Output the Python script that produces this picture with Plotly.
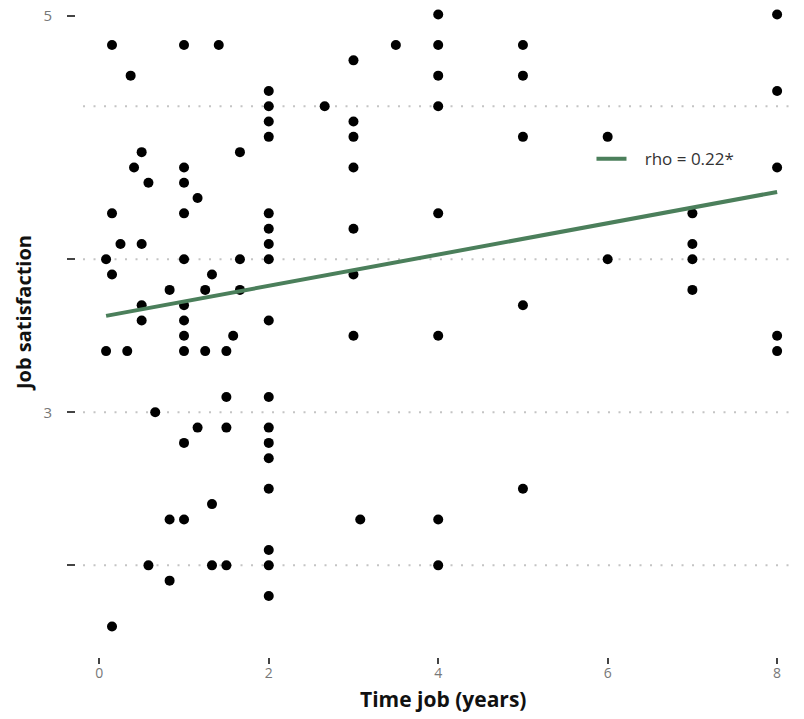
import plotly.graph_objects as go

# Data
time_years = [
    0.15, 1.0, 1.41, 0.37,
    2, 2, 2, 2,
    0.5, 1.66, 0.41, 1.0, 0.58, 1.0, 1.16,
    0.15, 1.0, 2, 2,
    0.25, 0.5, 2,
    0.08, 1.0, 1.66, 2,
    0.15, 1.33,
    0.83, 1.25, 1.66,
    0.5, 1.0,
    0.5, 1.0, 2,
    1.0, 1.58,
    0.08, 0.33, 1.0, 1.25, 1.5,
    1.5, 2,
    0.66,
    1.16, 1.5, 2,
    1.0, 2,
    2, 2,
    1.33,
    0.83, 1.0,
    2,
    0.58, 1.33, 1.5, 2,
    0.83, 2, 0.15,
    4, 3.5, 4, 5, 3, 4, 5, 2.66, 4, 3, 3, 5, 3, 4, 3, 3, 5,
    3, 4, 3.08, 4, 4, 5,
    6, 6, 8, 8, 8, 7, 7, 7, 7, 8, 8,
]
job_satisfaction = [
    5.4, 5.4, 5.4, 5.2,
    5.1, 5.0, 4.9, 4.8,
    4.7, 4.7, 4.6, 4.6, 4.5, 4.5, 4.4,
    4.3, 4.3, 4.3, 4.2,
    4.1, 4.1, 4.1,
    4.0, 4.0, 4.0, 4.0,
    3.9, 3.9,
    3.8, 3.8, 3.8,
    3.7, 3.7,
    3.6, 3.6, 3.6,
    3.5, 3.5,
    3.4, 3.4, 3.4, 3.4, 3.4,
    3.1, 3.1,
    3.0,
    2.9, 2.9, 2.9,
    2.8, 2.8,
    2.7, 2.5,
    2.4,
    2.3, 2.3,
    2.1,
    2.0, 2.0, 2.0, 2.0,
    1.9, 1.8, 1.6,
    5.6, 5.4, 5.4, 5.4, 5.3, 5.2, 5.2, 5.0, 5.0, 4.9, 4.8, 4.8, 4.6, 4.3, 4.2, 3.9, 3.7,
    3.5, 3.5, 2.3, 2.3, 2.0, 2.5,
    4.8, 4.0, 5.6, 5.1, 4.6, 4.3, 4.1, 4.0, 3.8, 3.5, 3.4,
]

fit_x = [0.08, 8.0]
fit_y = [3.63, 4.44]
fit_label = "rho = 0.22*"

x_ticks = [0, 2, 4, 6, 8]
y_tick_vals = [2, 3, 4, 5.59]
y_tick_text = ["", "3", "", "5"]
grid_vals = [2, 3, 4, 5]
x_title = "Time job (years)"
y_title = "Job satisfaction"

FONT = "Open Sans, Noto Sans, sans-serif"

fig = go.Figure()
fig.add_trace(go.Scatter(
    x=time_years, y=job_satisfaction, mode="markers",
    marker=dict(color="black", size=10, line=dict(width=0)),
    showlegend=False,
))
fig.add_trace(go.Scatter(
    x=fit_x, y=fit_y, mode="lines",
    line=dict(color="#4b7f5b", width=4),
    name="\u00a0\u00a0\u00a0" + fit_label, showlegend=True,
))

for g in grid_vals:
    fig.add_shape(type="line", xref="paper", yref="y",
                  x0=0.0097, x1=0.986, y0=g, y1=g,
                  line=dict(color="#c4c4c4", width=2, dash="2px,8.5px"),
                  layer="below")

fig.add_annotation(text="<b>%s</b>" % x_title, xref="paper", yref="paper",
                   x=0.507, y=-0.0645, xanchor="center", yanchor="middle",
                   showarrow=False, font=dict(size=21, color="#111111", family=FONT))
fig.add_annotation(text="<b>%s</b>" % y_title, xref="paper", yref="paper",
                   x=-0.0732, y=0.530, xanchor="center", yanchor="middle", textangle=-90,
                   showarrow=False, font=dict(size=20, color="#111111", family=FONT))

fig.update_layout(
    width=804, height=719,
    margin=dict(l=68, r=12, t=0, b=70, autoexpand=False),
    paper_bgcolor="white", plot_bgcolor="white",
    font=dict(family=FONT, color="#333333"),
    legend=dict(x=0.712, y=0.767, xanchor="left", yanchor="middle",
                bgcolor="rgba(0,0,0,0)", font=dict(size=17, color="#333333")),
    xaxis=dict(
        range=[-0.275, 8.27], tickvals=x_ticks, showgrid=False, zeroline=False,
        showline=False, ticks="outside", ticklen=6, tickwidth=2, tickcolor="#444444",
        automargin=False, ticklabeloverflow="allow", ticklabelstandoff=-3,
        tickfont=dict(size=14, color="#777777"),
    ),
    yaxis=dict(
        range=[1.401, 5.642], tickvals=y_tick_vals, ticktext=y_tick_text,
        showgrid=False, zeroline=False, showline=False,
        ticks="outside", ticklen=8, tickwidth=2, tickcolor="#444444",
        ticklabelstandoff=12, automargin=False, ticklabeloverflow="allow",
        tickfont=dict(size=15, color="#777777"),
    ),
)

fig.write_html("out.html")
